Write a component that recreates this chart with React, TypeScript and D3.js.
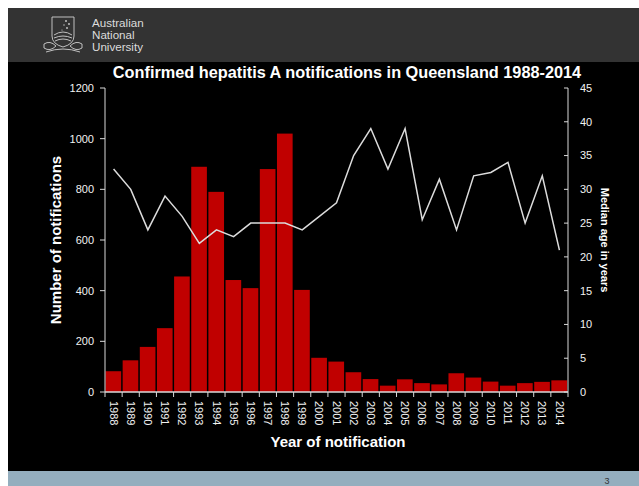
import React from "react";
import * as d3 from "d3";

const years: number[] = [
  1988, 1989, 1990, 1991, 1992, 1993, 1994, 1995, 1996, 1997, 1998, 1999, 2000,
  2001, 2002, 2003, 2004, 2005, 2006, 2007, 2008, 2009, 2010, 2011, 2012, 2013, 2014,
];
const notifications: number[] = [
  82, 125, 178, 252, 456, 889, 790, 442, 410, 880, 1020, 403, 135,
  120, 78, 51, 25, 50, 35, 30, 74, 57, 41, 25, 35, 40, 46,
];
const medianAge: number[] = [
  33, 30, 24, 29, 26, 22, 24, 23, 25, 25, 25, 24, 26,
  28, 35, 39, 33, 39, 25.5, 31.5, 24, 32, 32.5, 34, 25, 32, 21,
];
const leftTicks: number[] = [0, 200, 400, 600, 800, 1000, 1200];
const rightTicks: number[] = [0, 5, 10, 15, 20, 25, 30, 35, 40, 45];
const logoLines: string[] = ["Australian", "National", "University"];

const W = 639;
const H = 486;
const M = { left: 105, right: 568, top: 88, bottom: 392 };
const FONT = "'Liberation Sans', Arial, sans-serif";
const AXIS = "#d9d9d9";

export default function App() {
  const x = d3
    .scaleBand<number>()
    .domain(years)
    .range([M.left, M.right])
    .padding(0);
  const yL = d3.scaleLinear().domain([0, 1200]).range([M.bottom, M.top]);
  const yR = d3.scaleLinear().domain([0, 45]).range([M.bottom, M.top]);
  const bw = x.bandwidth();

  const line = d3
    .line<number>()
    .x((_, i) => (x(years[i]) as number) + bw / 2)
    .y((d) => yR(d));

  const boundaries = years.map((y) => x(y) as number).concat([M.right]);

  return (
    <svg
      width={W}
      height={H}
      style={{ position: "absolute", left: 0, top: 0, display: "block" }}
      fontFamily={FONT}
    >
      <rect x={0} y={0} width={W} height={H} fill="#ffffff" />
      {/* header */}
      <rect x={8} y={8} width={W - 8} height={54} fill="#333333" />
      {/* main black area */}
      <rect x={8} y={62} width={W - 8} height={409} fill="#000000" />
      {/* footer strip */}
      <rect x={8} y={471} width={W - 8} height={15} fill="#94aebe" />
      <text x={607} y={484} fontSize={9} fill="#333" textAnchor="middle">
        3
      </text>

      {/* logo */}
      <g stroke="#cfcfcf" fill="none" strokeWidth={0.9}>
        <path d="M52,17 L74,17 L74,36 Q74,44 63,47 Q52,44 52,36 Z" />
        <path d="M54,35 Q63,29 72,35" />
        <path d="M54,38 Q63,34 72,38" />
        <path d="M55,41 Q63,37 71,41" />
        <path d="M44,44 Q50,40 56,46 Q50,52 44,48 Z" />
        <path d="M82,44 Q76,40 70,46 Q76,52 82,48 Z" />
        <path d="M46,52 Q63,46 80,52" />
      </g>
      <g fill="#cfcfcf">
        <circle cx={66} cy={21} r={0.9} />
        <circle cx={69} cy={24} r={0.9} />
        <circle cx={64} cy={25} r={0.7} />
        <circle cx={67} cy={28} r={0.9} />
        <circle cx={62} cy={30} r={0.6} />
      </g>
      <g fill="#dcdcdc" fontSize={10.2} transform="translate(92,0) scale(1.14,1)">
        {logoLines.map((t, i) => (
          <text key={t} x={0} y={27.5 + i * 12}>
            {t}
          </text>
        ))}
      </g>

      {/* title */}
      <text
        x={347}
        y={78}
        fontSize={16.3}
        fontWeight="bold"
        fill="#ffffff"
        textAnchor="middle"
      >
        Confirmed hepatitis A notifications in Queensland 1988-2014
      </text>

      {/* bars */}
      <g fill="#c00000">
        {years.map((yr, i) => (
          <rect
            key={yr}
            x={(x(yr) as number) + 0.5}
            y={yL(notifications[i])}
            width={bw - 1.5}
            height={M.bottom - yL(notifications[i])}
          />
        ))}
      </g>

      {/* line */}
      <path
        d={line(medianAge) || ""}
        fill="none"
        stroke="#dcdcdc"
        strokeWidth={1.5}
      />

      {/* left axis */}
      <line x1={M.left} x2={M.left} y1={M.top} y2={M.bottom} stroke={AXIS} />
      {leftTicks.map((t) => (
        <g key={t}>
          <line x1={M.left - 5} x2={M.left} y1={yL(t)} y2={yL(t)} stroke={AXIS} />
          <text
            x={M.left - 11}
            y={yL(t)}
            dy="0.35em"
            fontSize={11}
            fill="#f2f2f2"
            textAnchor="end"
          >
            {t}
          </text>
        </g>
      ))}

      {/* right axis */}
      <line x1={M.right} x2={M.right} y1={M.top} y2={M.bottom} stroke={AXIS} />
      {rightTicks.map((t) => (
        <g key={t}>
          <line x1={M.right - 4} x2={M.right} y1={yR(t)} y2={yR(t)} stroke={AXIS} />
          <text
            x={M.right + 12}
            y={yR(t)}
            dy="0.35em"
            fontSize={11}
            fill="#f2f2f2"
            textAnchor="start"
          >
            {t}
          </text>
        </g>
      ))}

      {/* bottom axis */}
      <line x1={M.left} x2={M.right} y1={M.bottom} y2={M.bottom} stroke={AXIS} strokeWidth={1.5} />
      {boundaries.map((b, i) => (
        <line key={i} x1={b} x2={b} y1={M.bottom} y2={M.bottom + 5} stroke={AXIS} />
      ))}
      {years.map((yr) => (
        <text
          key={yr}
          transform={`translate(${(x(yr) as number) + bw / 2},${M.bottom + 9}) rotate(90)`}
          fontSize={11}
          fill="#f2f2f2"
          textAnchor="start"
          dy="0.35em"
        >
          {yr}
        </text>
      ))}

      {/* axis titles */}
      <text
        transform={`translate(61,${(M.top + M.bottom) / 2}) rotate(-90)`}
        fontSize={15}
        fontWeight="bold"
        fill="#ffffff"
        textAnchor="middle"
      >
        Number of notifications
      </text>
      <text
        transform={`translate(601,${(M.top + M.bottom) / 2}) rotate(90)`}
        fontSize={11}
        fontWeight="bold"
        fill="#ffffff"
        textAnchor="middle"
      >
        Median age in years
      </text>
      <text
        x={338}
        y={447}
        fontSize={15}
        fontWeight="bold"
        fill="#ffffff"
        textAnchor="middle"
      >
        Year of notification
      </text>
    </svg>
  );
}
